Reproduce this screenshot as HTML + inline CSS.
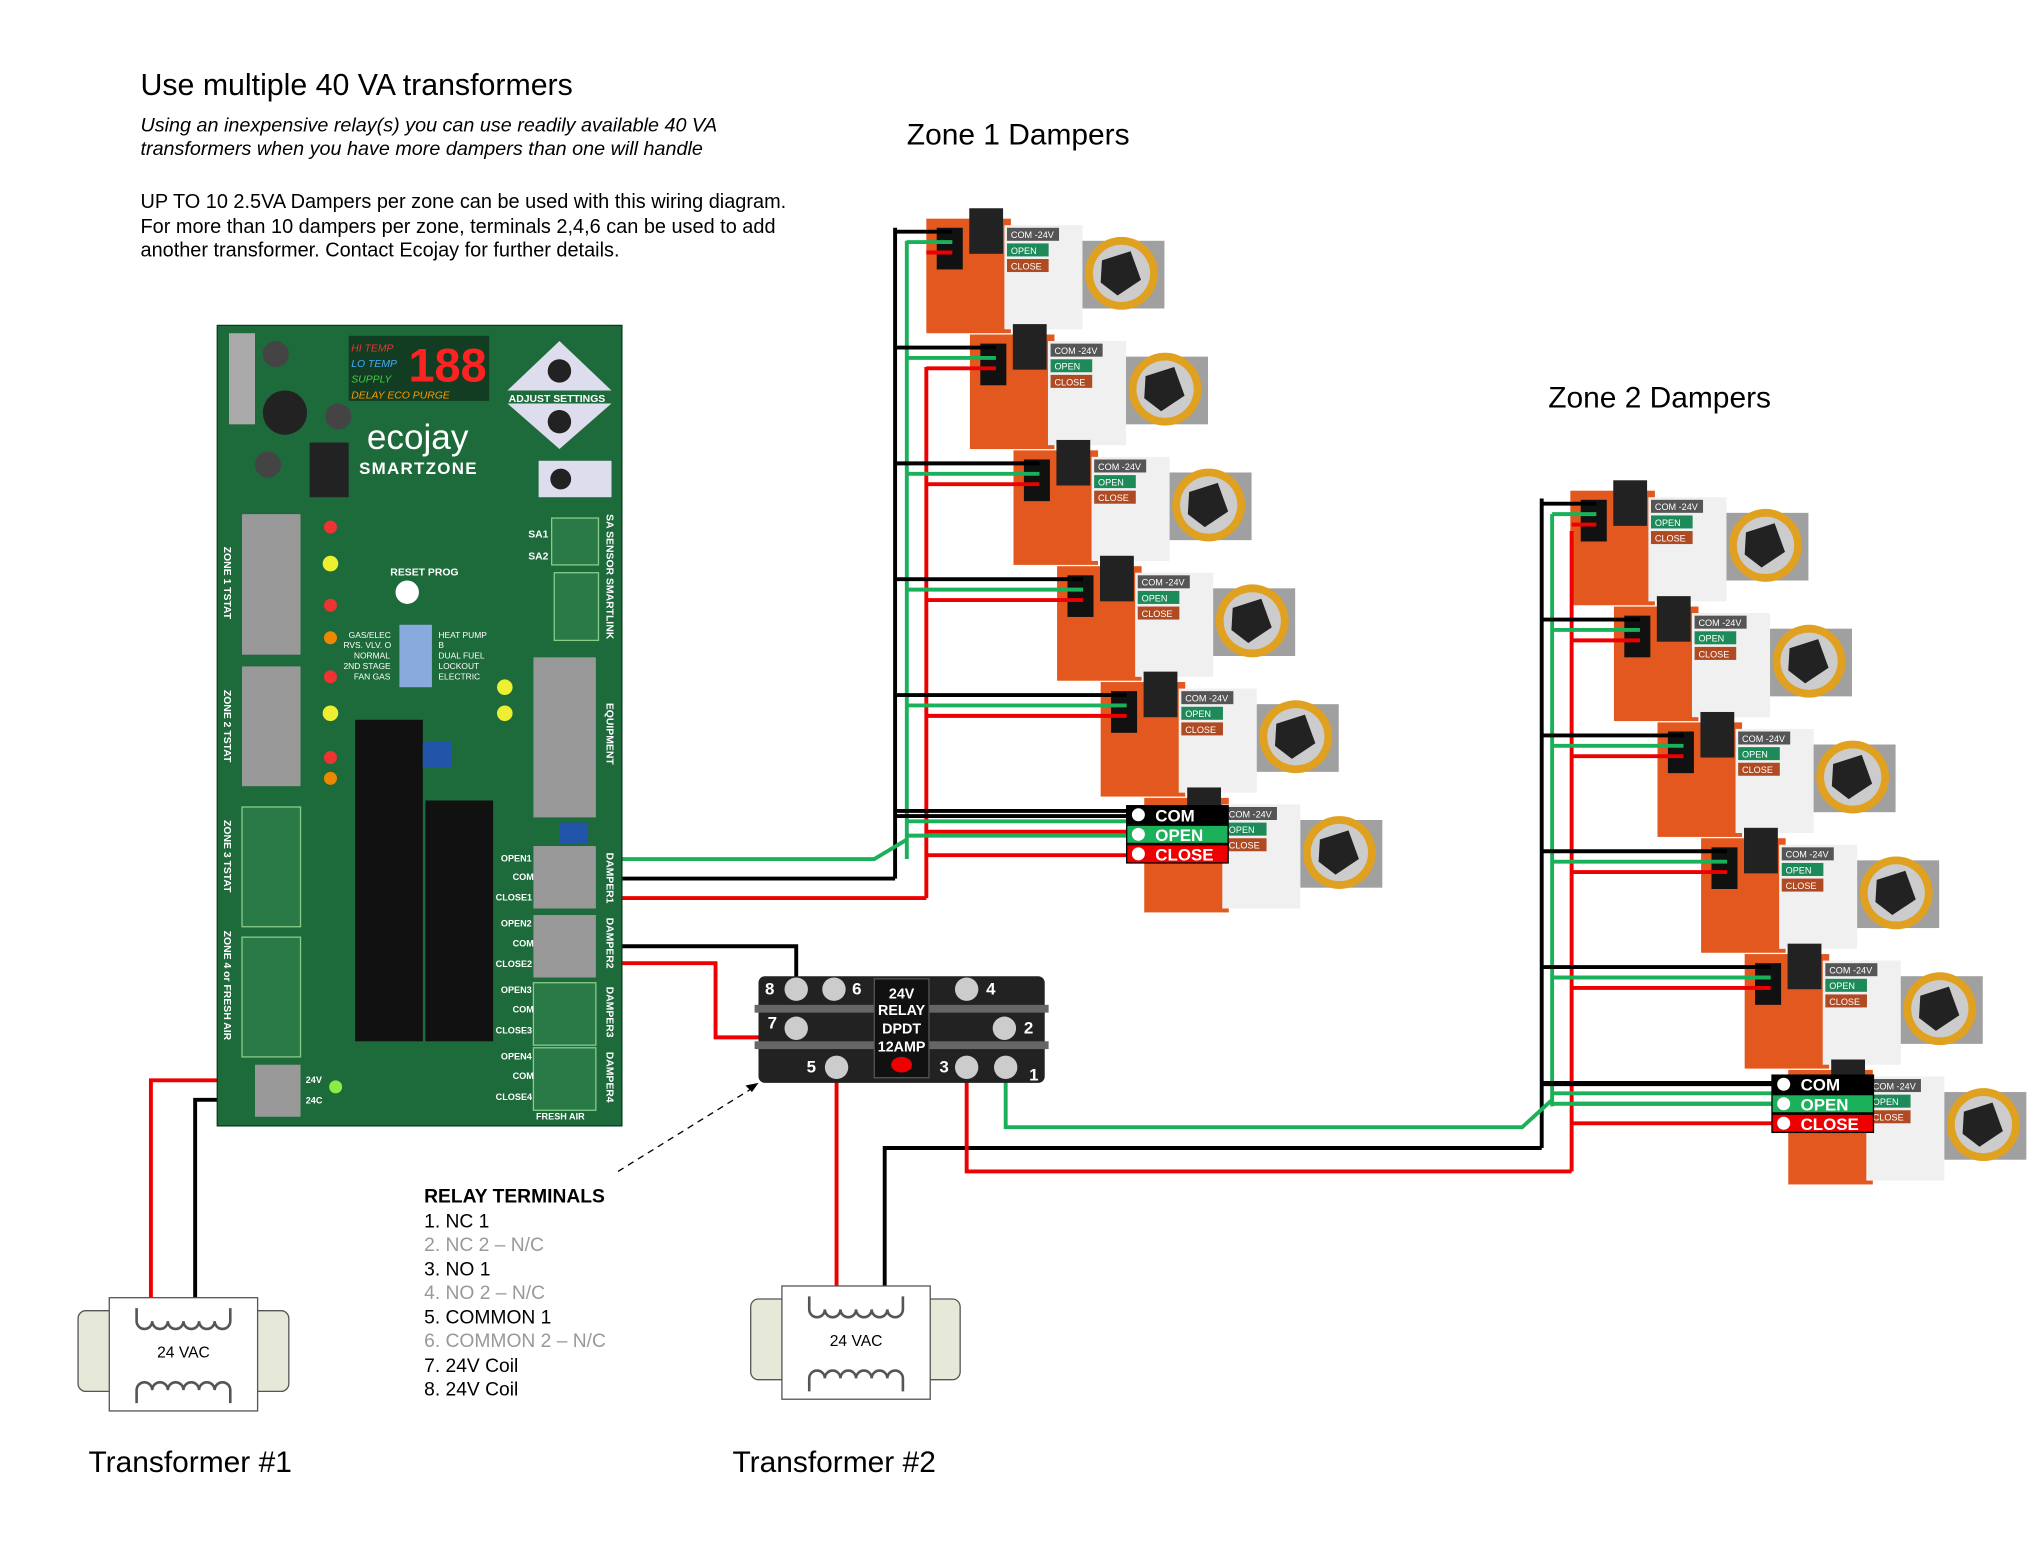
<!DOCTYPE html>
<html><head><meta charset="utf-8"><style>
html,body{margin:0;padding:0;background:#fff}
svg{display:block}
text{font-family:"Liberation Sans",sans-serif}
</style></head><body>
<svg id="s" width="2040" height="1545" viewBox="0 0 1568 1187" preserveAspectRatio="none" xmlns="http://www.w3.org/2000/svg">
<rect width="1568" height="1187" fill="#fff"/>
<text x="108" y="73" font-size="23.3">Use multiple 40 VA transformers</text>
<text x="108" y="101" font-size="15.2" font-style="italic">Using an inexpensive relay(s) you can use readily available 40 VA</text>
<text x="108" y="119" font-size="15.2" font-style="italic">transformers when you have more dampers than one will handle</text>
<text x="108" y="160" font-size="15.3">UP TO 10 2.5VA Dampers per zone can be used with this wiring diagram.</text>
<text x="108" y="179" font-size="15.3">For more than 10 dampers per zone, terminals 2,4,6 can be used to add</text>
<text x="108" y="197" font-size="15.3">another transformer.  Contact Ecojay for further details.</text>
<text x="697" y="111" font-size="23">Zone 1 Dampers</text>
<text x="1190" y="313" font-size="23">Zone 2 Dampers</text>

<g id="dampers"></g>
<g id="wires" fill="none" stroke-width="3"></g>

<!-- board -->
<g>
<rect x="167" y="250" width="311" height="615" fill="#1d6a3b" stroke="#0d3a1e"/>
<rect x="268" y="258" width="108" height="50" fill="#123d22"/>
<text x="270" y="270" font-size="8" fill="#e33" font-style="italic">HI TEMP</text>
<text x="270" y="282" font-size="8" fill="#4af" font-style="italic">LO TEMP</text>
<text x="270" y="294" font-size="8" fill="#4c4" font-style="italic">SUPPLY</text>
<text x="270" y="306" font-size="8" fill="#f90" font-style="italic">DELAY   ECO   PURGE</text>
<text x="314" y="293" font-size="36" fill="#f22" font-weight="bold">188</text>
<path d="M430 262 L470 300 L390 300Z M430 345 L470 310 L390 310Z" fill="#dde"/>
<circle cx="430" cy="285" r="9" fill="#222"/><circle cx="430" cy="324" r="9" fill="#222"/>
<text x="391" y="309" font-size="8" fill="#fff" font-weight="bold">ADJUST SETTINGS</text>
<text x="282" y="345" font-size="27" fill="#fff">ecojay</text>
<text x="276" y="364" font-size="13" fill="#fff" font-weight="bold" letter-spacing="1">SMARTZONE</text>
<rect x="414" y="354" width="56" height="28" fill="#dde"/><circle cx="431" cy="368" r="8" fill="#222"/>
<rect x="176" y="256" width="20" height="70" fill="#aaa"/>
<circle cx="219" cy="317" r="17" fill="#222"/><circle cx="212" cy="272" r="10" fill="#444"/><circle cx="260" cy="320" r="10" fill="#444"/><circle cx="206" cy="357" r="10" fill="#444"/>
<rect x="238" y="340" width="30" height="42" fill="#222"/>
<rect x="186" y="395" width="45" height="108" fill="#999"/>
<rect x="186" y="512" width="45" height="92" fill="#999"/>
<rect x="186" y="620" width="45" height="92" fill="#2a7a48" stroke="#8c8"/>
<rect x="186" y="720" width="45" height="92" fill="#2a7a48" stroke="#8c8"/>
<text transform="translate(172,420) rotate(90)" font-size="8" fill="#fff" font-weight="bold">ZONE 1 TSTAT</text>
<text transform="translate(172,530) rotate(90)" font-size="8" fill="#fff" font-weight="bold">ZONE 2 TSTAT</text>
<text transform="translate(172,630) rotate(90)" font-size="8" fill="#fff" font-weight="bold">ZONE 3 TSTAT</text>
<text transform="translate(172,715) rotate(90)" font-size="8" fill="#fff" font-weight="bold">ZONE 4 or FRESH AIR</text>
<text transform="translate(466,395) rotate(90)" font-size="8" fill="#fff" font-weight="bold">SA SENSOR  SMARTLINK</text>
<text transform="translate(466,540) rotate(90)" font-size="8" fill="#fff" font-weight="bold">EQUIPMENT</text>
<text transform="translate(466,655) rotate(90)" font-size="8" fill="#fff" font-weight="bold">DAMPER1</text>
<text transform="translate(466,705) rotate(90)" font-size="8" fill="#fff" font-weight="bold">DAMPER2</text>
<text transform="translate(466,758) rotate(90)" font-size="8" fill="#fff" font-weight="bold">DAMPER3</text>
<text transform="translate(466,808) rotate(90)" font-size="8" fill="#fff" font-weight="bold">DAMPER4</text>
<circle cx="254" cy="405" r="5" fill="#e33"/><circle cx="254" cy="433" r="6" fill="#ee3"/><circle cx="254" cy="465" r="5" fill="#e33"/><circle cx="254" cy="490" r="5" fill="#e80"/>
<circle cx="254" cy="520" r="5" fill="#e33"/><circle cx="254" cy="548" r="6" fill="#ee3"/><circle cx="254" cy="582" r="5" fill="#e33"/><circle cx="254" cy="598" r="5" fill="#e80"/>
<circle cx="388" cy="528" r="6" fill="#ee3"/><circle cx="388" cy="548" r="6" fill="#ee3"/><circle cx="258" cy="835" r="5" fill="#8e4"/>
<circle cx="313" cy="455" r="9" fill="#fff"/>
<text x="300" y="442" font-size="8" fill="#fff" font-weight="bold">RESET   PROG</text>
<rect x="307" y="480" width="25" height="48" fill="#8ad"/>
<text x="268" y="490" font-size="6.5" fill="#fff">GAS/ELEC</text><text x="264" y="498" font-size="6.5" fill="#fff">RVS. VLV. O</text><text x="272" y="506" font-size="6.5" fill="#fff">NORMAL</text><text x="264" y="514" font-size="6.5" fill="#fff">2ND STAGE</text><text x="272" y="522" font-size="6.5" fill="#fff">FAN GAS</text>
<text x="337" y="490" font-size="6.5" fill="#fff">HEAT PUMP</text><text x="337" y="498" font-size="6.5" fill="#fff">B</text><text x="337" y="506" font-size="6.5" fill="#fff">DUAL FUEL</text><text x="337" y="514" font-size="6.5" fill="#fff">LOCKOUT</text><text x="337" y="522" font-size="6.5" fill="#fff">ELECTRIC</text>
<text x="406" y="413" font-size="8" fill="#fff" font-weight="bold">SA1</text><text x="406" y="430" font-size="8" fill="#fff" font-weight="bold">SA2</text>
<rect x="424" y="398" width="36" height="36" fill="#2a7a48" stroke="#8c8"/><rect x="426" y="440" width="34" height="52" fill="#2a7a48" stroke="#8c8"/>
<rect x="273" y="553" width="52" height="247" fill="#111"/>
<rect x="327" y="615" width="52" height="185" fill="#111"/>
<rect x="325" y="570" width="22" height="20" fill="#2255aa"/>
<rect x="410" y="505" width="48" height="123" fill="#999"/>
<rect x="410" y="650" width="48" height="48" fill="#999"/>
<rect x="410" y="703" width="48" height="48" fill="#999"/>
<rect x="410" y="755" width="48" height="48" fill="#2a7a48" stroke="#8c8"/>
<rect x="410" y="805" width="48" height="48" fill="#2a7a48" stroke="#8c8"/>
<rect x="430" y="632" width="22" height="16" fill="#2255aa"/>
<rect x="196" y="818" width="35" height="40" fill="#999"/>
<g font-size="7" fill="#fff" font-weight="bold">
<text x="385" y="662">OPEN1</text><text x="394" y="676">COM</text><text x="381" y="692">CLOSE1</text>
<text x="385" y="712">OPEN2</text><text x="394" y="727">COM</text><text x="381" y="743">CLOSE2</text>
<text x="385" y="763">OPEN3</text><text x="394" y="778">COM</text><text x="381" y="794">CLOSE3</text>
<text x="385" y="814">OPEN4</text><text x="394" y="829">COM</text><text x="381" y="845">CLOSE4</text>
<text x="412" y="860">FRESH AIR</text>
<text x="235" y="832">24V</text><text x="235" y="848">24C</text>
</g>
</g>

<!-- relay -->
<g>
<rect x="583" y="750" width="220" height="82" rx="5" fill="#222"/>
<rect x="580" y="772" width="226" height="6" fill="#666"/><rect x="580" y="800" width="226" height="6" fill="#666"/>
<rect x="672" y="752" width="42" height="76" fill="#111" stroke="#555"/>
<text x="693" y="767" font-size="11" fill="#fff" font-weight="bold" text-anchor="middle">24V</text>
<text x="693" y="780" font-size="11" fill="#fff" font-weight="bold" text-anchor="middle">RELAY</text>
<text x="693" y="794" font-size="11" fill="#fff" font-weight="bold" text-anchor="middle">DPDT</text>
<text x="693" y="808" font-size="11" fill="#fff" font-weight="bold" text-anchor="middle">12AMP</text>
<ellipse cx="693" cy="818" rx="8" ry="6" fill="#e00"/>
<g fill="#ccc"><circle cx="612" cy="760" r="9"/><circle cx="641" cy="760" r="9"/><circle cx="743" cy="760" r="9"/><circle cx="612" cy="790" r="9"/><circle cx="772" cy="790" r="9"/><circle cx="643" cy="820" r="9"/><circle cx="743" cy="820" r="9"/><circle cx="773" cy="820" r="9"/></g>
<g font-size="13" fill="#fff" font-weight="bold"><text x="588" y="764">8</text><text x="655" y="764">6</text><text x="758" y="764">4</text><text x="590" y="790">7</text><text x="787" y="794">2</text><text x="620" y="824">5</text><text x="722" y="824">3</text><text x="791" y="830">1</text></g>
</g>
<path d="M475 900 L580 835" stroke="#000" stroke-dasharray="5,4" fill="none"/>
<path d="M583 832 l-10 2 l5 5z" fill="#000"/>

<g font-size="14.8">
<text x="326" y="924" font-weight="bold">RELAY TERMINALS</text>
<text x="326" y="943">1. NC 1</text>
<text x="326" y="961" fill="#999">2. NC 2 – N/C</text>
<text x="326" y="980">3. NO 1</text>
<text x="326" y="998" fill="#999">4. NO 2 – N/C</text>
<text x="326" y="1017">5. COMMON 1</text>
<text x="326" y="1035" fill="#999">6. COMMON 2 – N/C</text>
<text x="326" y="1054">7. 24V Coil</text>
<text x="326" y="1072">8. 24V Coil</text>
</g>

<!-- transformers -->
<g stroke="#555" fill="#e6e8d8">
<rect x="60" y="1007" width="162" height="62" rx="6"/>
<rect x="84" y="997" width="114" height="87" fill="#fff"/>
<rect x="577" y="998" width="161" height="62" rx="6"/>
<rect x="601" y="988" width="114" height="87" fill="#fff"/>
</g>
<g fill="none" stroke="#555" stroke-width="2">
<path d="M105 1005 v10 a6 6 0 0 0 12 0 a6 6 0 0 0 12 0 a6 6 0 0 0 12 0 a6 6 0 0 0 12 0 a6 6 0 0 0 12 0 a6 6 0 0 0 12 0 v-10"/>
<path d="M105 1078 v-10 a6 6 0 0 1 12 0 a6 6 0 0 1 12 0 a6 6 0 0 1 12 0 a6 6 0 0 1 12 0 a6 6 0 0 1 12 0 a6 6 0 0 1 12 0 v10"/>
<path d="M622 996 v10 a6 6 0 0 0 12 0 a6 6 0 0 0 12 0 a6 6 0 0 0 12 0 a6 6 0 0 0 12 0 a6 6 0 0 0 12 0 a6 6 0 0 0 12 0 v-10"/>
<path d="M622 1069 v-10 a6 6 0 0 1 12 0 a6 6 0 0 1 12 0 a6 6 0 0 1 12 0 a6 6 0 0 1 12 0 a6 6 0 0 1 12 0 a6 6 0 0 1 12 0 v10"/>
</g>
<text x="141" y="1043" font-size="12" text-anchor="middle">24 VAC</text>
<text x="658" y="1034" font-size="12" text-anchor="middle">24 VAC</text>
<text x="68" y="1131" font-size="23">Transformer #1</text>
<text x="563" y="1131" font-size="23">Transformer #2</text>
<g id="labels"></g>
</svg>
<script>
var NS="http://www.w3.org/2000/svg";
function el(p,t,a,txt){var e=document.createElementNS(NS,t);for(var k in a)e.setAttribute(k,a[k]);if(txt)e.textContent=txt;p.appendChild(e);return e;}
var D=document.getElementById("dampers");
function damper(x,y){
 var g=el(D,"g",{transform:"translate("+x+","+y+")"});
 el(g,"rect",{x:115,y:22,width:68,height:52,fill:"#a0a0a0"});
 el(g,"rect",{x:0,y:5,width:65,height:88,fill:"#e2581f"});
 el(g,"rect",{x:33,y:-3,width:26,height:35,fill:"#222"});
 el(g,"rect",{x:60,y:10,width:60,height:80,fill:"#f0f0f0"});
 el(g,"rect",{x:62,y:12,width:40,height:10,fill:"#555"});
 el(g,"text",{x:65,y:20,"font-size":7,fill:"#fff"},"COM -24V");
 el(g,"rect",{x:62,y:24,width:32,height:10,fill:"#1e8a5a"});
 el(g,"text",{x:65,y:32,"font-size":7,fill:"#fff"},"OPEN");
 el(g,"rect",{x:62,y:36,width:32,height:10,fill:"#b04a22"});
 el(g,"text",{x:65,y:44,"font-size":7,fill:"#fff"},"CLOSE");
 el(g,"circle",{cx:150,cy:47,r:28,fill:"#e0a020"});
 el(g,"circle",{cx:150,cy:47,r:22,fill:"#ccc"});
 el(g,"path",{d:"M135 37 L157 30 L165 52 L147 64 L134 54Z",fill:"#222"});
 el(g,"rect",{x:8,y:12,width:20,height:32,fill:"#111"});
}
for(var i=0;i<6;i++){damper(712+33.5*i,163+89*i);}
for(var i=0;i<6;i++){damper(1207+33.5*i,372+89*i);}
var W=document.getElementById("wires");
function w(d,c){el(W,"path",{d:d,stroke:c});}
var bk="#000",gr="#1bb05a",rd="#e00";
w("M688 175 V675",bk);w("M697 185 V660",gr);w("M712 282 V690",rd);
for(var i=0;i<6;i++){var cx=722+33.5*i,cy=178+89*i;
 w("M688 "+cy+" H"+(cx+10),bk);w("M697 "+(cy+8)+" H"+(cx+10),gr);w("M712 "+(cy+16)+" H"+(cx+10),rd);}
w("M688 627 H866",bk);w("M697 642 H866",gr);w("M712 657 H866",rd);
w("M478 660 H672 L697 645",gr);w("M478 675 H688",bk);w("M478 690 H712",rd);
w("M1185 383 V882",bk);w("M1193 395 V850",gr);w("M1208 408 V900",rd);
for(var i=0;i<6;i++){var cx=1217+33.5*i,cy=387+89*i;
 w("M1185 "+cy+" H"+(cx+10),bk);w("M1193 "+(cy+8)+" H"+(cx+10),gr);w("M1208 "+(cy+16)+" H"+(cx+10),rd);}
w("M1185 833 H1362",bk);w("M1193 848 H1362",gr);w("M1208 863 H1362",rd);
w("M478 727 H612 V760",bk);w("M478 740 H550 V797 H604",rd);
w("M643 820 V990",rd);w("M680 990 V882 H1185",bk);w("M743 820 V900 H1208",rd);
w("M773 820 V866 H1170 L1193 845",gr);
w("M116 997 V830 H200",rd);w("M150 997 V845 H200",bk);
var L=document.getElementById("labels");
function tags(x,y){
 var c=[["COM","#000"],["OPEN","#1bb05a"],["CLOSE","#e00"]];
 for(var k=0;k<3;k++){
  el(L,"rect",{x:x,y:y+k*15,width:78,height:14,fill:c[k][1],stroke:"#000"});
  el(L,"circle",{cx:x+9,cy:y+7+k*15,r:5,fill:"#fff"});
  el(L,"text",{x:x+22,y:y+12+k*15,"font-size":13,fill:"#fff","font-weight":"bold"},c[k][0]);
 }
}
tags(866,619);tags(1362,826);
</script>
</body></html>
